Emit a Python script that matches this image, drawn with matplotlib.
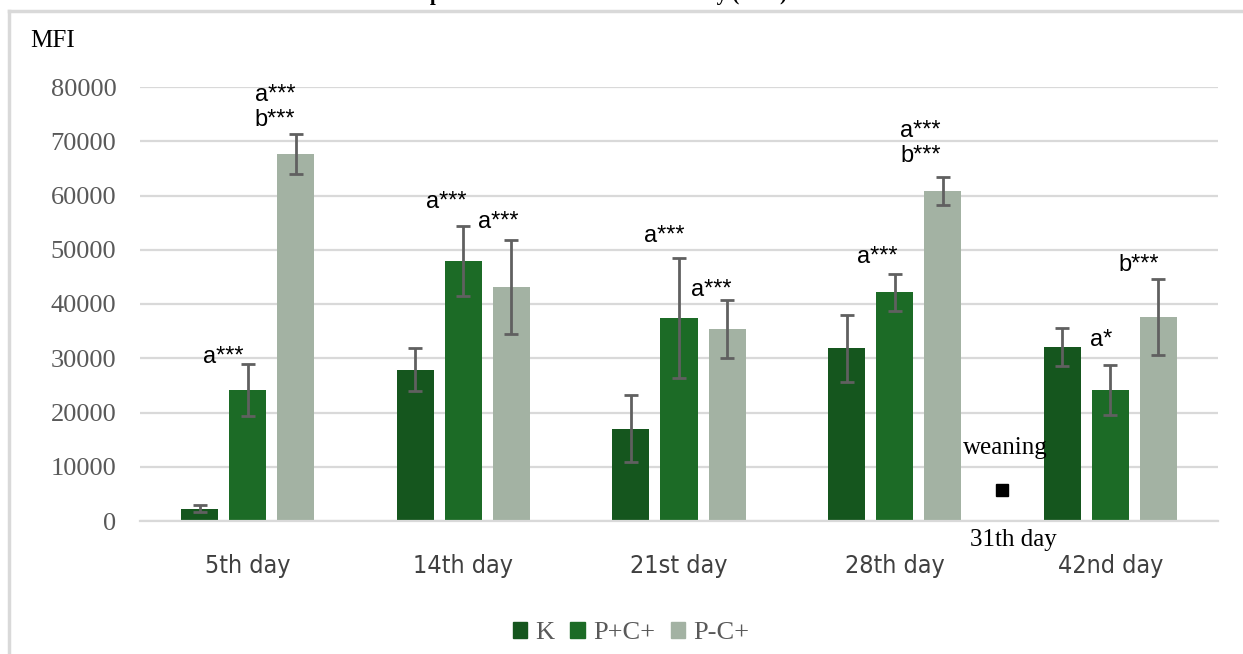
import matplotlib.pyplot as plt
import numpy as np
from matplotlib.patches import Patch
from matplotlib.lines import Line2D

# MFI per day and group
days = ['5th day', '14th day', '21st day', '28th day', '42nd day']
groups = ['K', 'P+C+', 'P-C+']
k_mean = [2300, 27900, 17000, 31800, 32100]
k_err = [700, 4000, 6200, 6200, 3500]
pc_mean = [24200, 47900, 37400, 42200, 24100]
pc_err = [4800, 6500, 11000, 3400, 4600]
mc_mean = [67700, 43100, 35400, 60900, 37600]
mc_err = [3700, 8700, 5400, 2600, 7000]

# significance labels: (day index, group index, text)
marks = [(0, 1, 'a***'), (0, 2, 'a***\nb***'), (1, 1, 'a***'), (1, 2, 'a***'),
         (2, 1, 'a***'), (2, 2, 'a***'), (3, 1, 'a***'), (3, 2, 'a***\nb***'),
         (4, 1, 'a*'), (4, 2, 'b***')]
mark_pos = [(-0.115, 30200), (0.125, 76200), (-0.08, 58800), (0.16, 55100),
            (-0.07, 52500), (0.15, 42600), (-0.08, 48700), (0.12, 69600),
            (-0.04, 33400), (0.13, 47200)]

weaning_x = 3.5
weaning_y = 5700

colors = ['#15561e', '#1c6b26', '#a3b2a3']
serif = ['Liberation Serif', 'DejaVu Serif']
gray = '#595959'

fig = plt.figure(figsize=(12.43, 6.54), dpi=100)
ax = fig.add_axes([140 / 1243, 1 - 521 / 654, 1078 / 1243, 434 / 654])

x = np.arange(len(days))
off = 0.223
w = 0.172
for i, (m, e) in enumerate([(k_mean, k_err), (pc_mean, pc_err), (mc_mean, mc_err)]):
    ax.bar(x + (i - 1) * off, m, width=w, color=colors[i], zorder=2,
           yerr=e, error_kw=dict(ecolor='#606060', elinewidth=2, capsize=5, capthick=2, zorder=3))

for (d, g, t), (px, py) in zip(marks, mark_pos):
    ax.text(d + px, py, t, ha='center', va='center', fontsize=17,
            family=['Liberation Sans', 'DejaVu Sans'], linespacing=1.2)

ax.plot([weaning_x], [weaning_y], marker='s', color='black', markersize=8, ls='none', zorder=3)
ax.text(weaning_x + 0.015, 13500, 'weaning', ha='center', va='center', fontsize=18, family=serif)
ax.text(weaning_x + 0.05, -3500, '31th day', ha='center', va='center', fontsize=18, family=serif,
        clip_on=False)

ax.set_xlim(-0.5, 4.5)
ax.set_ylim(0, 80000)
ax.set_yticks(np.arange(0, 80001, 10000))
ax.set_xticks(x)
ax.set_xticklabels(days, family='DejaVu Sans', stretch='condensed', fontsize=18, color='#404040')
for lab in ax.get_yticklabels():
    lab.set_family(serif)
    lab.set_fontsize(19)
    lab.set_color(gray)
ax.tick_params(axis='y', length=0, pad=17)
ax.tick_params(axis='x', length=0, pad=24)
ax.grid(axis='y', color='#d9d9d9', lw=1.6, zorder=0)
ax.set_axisbelow(True)
for s in ['top', 'right', 'left']:
    ax.spines[s].set_visible(False)
ax.spines['bottom'].set_color('#d9d9d9')
ax.spines['bottom'].set_linewidth(1.6)

fig.text(30 / 1243, 1 - 41 / 654, 'MFI', fontsize=18, family=serif, va='center', ha='left')
fig.text(590 / 1243, 1.0, 'Graph 1. Mean fluorescence intensity (MFI)', fontsize=15,
         family=serif, weight='bold', ha='center', va='baseline')

# outer chart border
fig.add_artist(Line2D([9 / 1243, 9 / 1243], [0, 1 - 11 / 654], color='#d9d9d9', lw=2.5,
                      transform=fig.transFigure))
fig.add_artist(Line2D([9 / 1243, 1], [1 - 11 / 654, 1 - 11 / 654], color='#d9d9d9', lw=2.5,
                      transform=fig.transFigure))

handles = [Patch(color=c) for c in colors]
fig.legend(handles, groups, loc='center', bbox_to_anchor=(631 / 1243, 1 - 633 / 654), ncol=3,
           frameon=False, prop=dict(family=serif, size=19), labelcolor=gray,
           handlelength=0.55, handleheight=0.55, handletextpad=0.3, columnspacing=0.6)

fig.savefig('out.png', dpi=100)
